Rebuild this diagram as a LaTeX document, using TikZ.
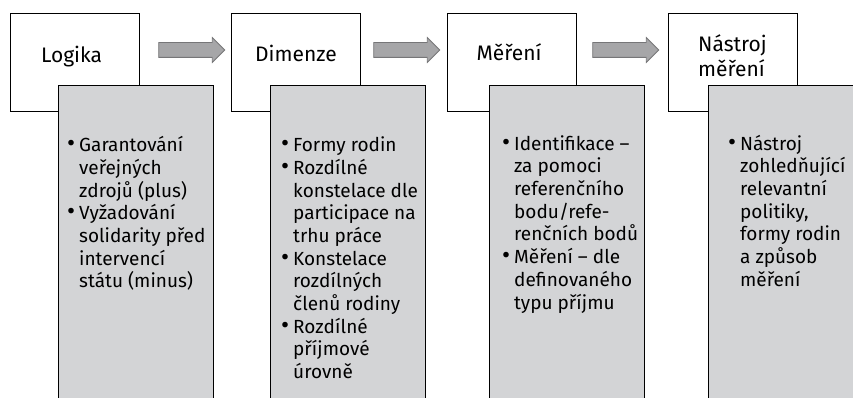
\documentclass[tikz,border=0pt]{standalone}
\usepackage{fontspec}
\setmainfont{Fira Sans}
\usetikzlibrary{shapes.arrows}
\definecolor{boxgray}{RGB}{211,212,214}
\definecolor{arrowgray}{RGB}{166,166,168}
\definecolor{arrowedge}{RGB}{118,118,120}
\newcommand{\bul}{\llap{\scalebox{1.3}{\textbullet}\hspace{4pt}}}

\begin{document}
\begin{tikzpicture}[x=1pt,y=-1pt,
	whitebox/.style={draw=black,line width=1.1pt,fill=white,minimum width=129pt,minimum height=98pt,anchor=north west,inner sep=0pt},
	graybox/.style={draw=black,line width=1.1pt,fill=boxgray,minimum width=155pt,minimum height=330pt,anchor=north west,inner sep=0pt},
	title/.style={font=\fontsize{21}{22}\selectfont,align=center,inner sep=0pt},
	items/.style={font=\fontsize{19}{22.7}\selectfont,align=left,anchor=north west,inner sep=0pt},
	fatarrow/.style={single arrow,draw=arrowedge,fill=arrowgray,line width=0.8pt,minimum height=66pt,minimum width=0pt,single arrow head extend=5pt,single arrow head indent=0pt,inner xsep=0pt,inner ysep=7pt}]
	\useasboundingbox (0,0) rectangle (853,398);
	\clip (0,0) rectangle (853,398);
	% white boxes with titles
	\node[whitebox] (logika) at (10,13) {};
	\node[whitebox] (dimenze) at (231,13) {};
	\node[whitebox] (mereni) at (447,13) {};
	\node[whitebox] (nastroj) at (668,13) {};
	\node[title,anchor=base] (logikaT) at (71.5,62.3) {Logika};
	\node[title,anchor=base] (dimenzeT) at (296,61.5) {Dimenze};
	\node[title,anchor=base] (mereniT) at (509,60.5) {Měření};
	\node[title,align=left,anchor=north west] (nastrojT) at (698,34.6) {\strut Nástroj\\měření};
	% arrows
	\node[fatarrow] (a1) at (188,50) {};
	\node[fatarrow] (a2) at (403,50) {};
	\node[fatarrow] (a3) at (622,50) {};
	% gray boxes
	\node[graybox] (logikaG) at (58,85) {};
	\node[graybox] (dimenzeG) at (270,85) {};
	\node[graybox] (mereniG) at (489,85) {};
	\node[graybox] (nastrojG) at (708,85) {};
	\node[items] (logikaL) at (79,135.6) {\strut\bul Garantování\\veřejných\\zdrojů (plus)\\
		\bul Vyžadování\\solidarity před\\intervencí\\státu (minus)};
	\node[items] (dimenzeL) at (293,135.6) {\strut\bul Formy rodin\\\bul Rozdílné\\konstelace dle\\participace na\\trhu práce\\
		\bul Konstelace\\rozdílných\\členů rodiny\\\bul Rozdílné\\příjmové\\úrovně};
	\node[items] (mereniL) at (514,134.1) {\strut\bul Identifikace –\\za pomoci\\referenčního\\bodu/refe-\\renčních bodů\\
		\bul Měření – dle\\definovaného\\typu příjmu};
	\node[items] (nastrojL) at (740,134.1) {\strut\bul Nástroj\\zohledňující\\relevantní\\politiky,\\formy rodin\\a způsob\\měření};
\end{tikzpicture}
\end{document}
